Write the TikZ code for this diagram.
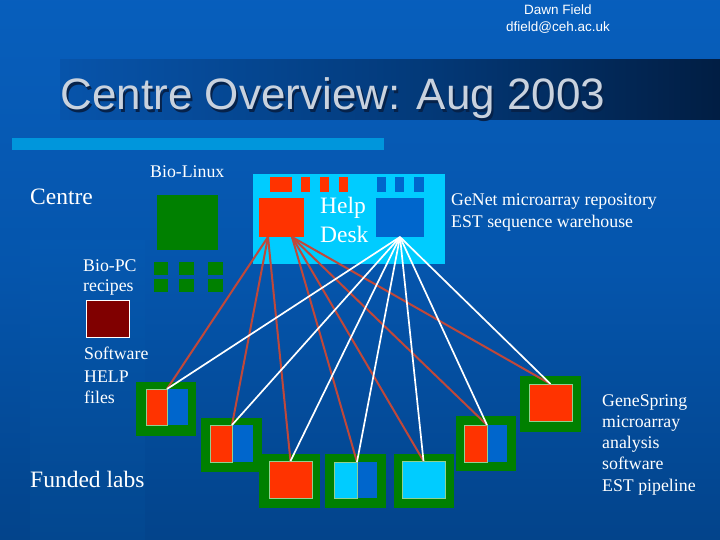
\documentclass[tikz,border=0pt]{standalone}
\usepackage{fontspec}
\setmainfont{Liberation Serif}
\newfontfamily\arialf{Liberation Sans}
\usetikzlibrary{calc}
\definecolor{bgtop}{HTML}{0A68CC}
\definecolor{bgmid}{HTML}{0555AC}
\definecolor{bgbot}{HTML}{00326A}
\definecolor{bandA}{HTML}{0A60C2}
\definecolor{bandB}{HTML}{0857B0}
\definecolor{bandC}{HTML}{033A7A}
\definecolor{bandD}{HTML}{011A3C}
\definecolor{bandE}{HTML}{000814}
\definecolor{stripbot}{HTML}{03478F}
\definecolor{stripTop}{HTML}{0558B0}
\definecolor{barblue}{HTML}{0096DC}
\definecolor{titlegrey}{HTML}{C9D2DE}
\definecolor{titleshadow}{HTML}{06224A}
\definecolor{hdcyan}{HTML}{00CCFF}
\definecolor{hdred}{HTML}{FF3300}
\definecolor{hdblue}{HTML}{0066CC}
\definecolor{labgreen}{HTML}{008000}
\definecolor{lightg}{HTML}{90D090}
\definecolor{darkred}{HTML}{800000}
\definecolor{linered}{HTML}{C0483A}
\pgfdeclareverticalshading{bgshade}{100bp}{color(0bp)=(bgbot); color(50bp)=(bgmid); color(100bp)=(bgtop)}
\pgfdeclarehorizontalshading{bandshade}{100bp}{color(0bp)=(bandA); color(22bp)=(bandB); color(52bp)=(bandC); color(78bp)=(bandD); color(100bp)=(bandE)}
\newcommand\rn[6]{\node[box,#2,minimum width={(#5-#3)*1pt},minimum height={(#6-#4)*1pt}] (#1) at (#3,#4) {};}
\newcommand\shadowtext[1]{\makebox[0pt][l]{\hspace{2pt}\raisebox{-2.5pt}{\textcolor{titleshadow}{#1}}}\textcolor{titlegrey}{#1}}
\tikzset{
  box/.style={rectangle, inner sep=0pt, outer sep=0pt, anchor=north west, draw=none},
  ser/.style={inner sep=0pt, anchor=base west, text=white, font=\fontsize{17.8}{21}\selectfont},
  big/.style={ser, font=\fontsize{23.5}{28}\selectfont},
  redline/.style={draw=linered, line width=2pt},
  whiteline/.style={draw=white, line width=1.7pt},
  outline/.style={draw=lightg, line width=0.8pt},
}
\begin{document}
\begin{tikzpicture}[x=1pt,y=-1pt]
\useasboundingbox (0,0) rectangle (720,540);
% background
\shade[shading=bgshade] (0,0) rectangle (720,540);
\shade[top color=stripTop, bottom color=stripbot] (30,240) rectangle (145,540);
% title band
\shade[shading=bandshade] (60,60) rectangle (720,120);
\node[inner sep=0pt, anchor=base west, font=\arialf\fontsize{44}{50}\selectfont] (title) at (60.5,110) {\shadowtext{Centre Overview: Aug 2003}};
\node[inner sep=0pt, anchor=base, text=white, font=\arialf\fontsize{13.5}{16}\selectfont] (author) at (558,15) {Dawn Field};
\node[inner sep=0pt, anchor=base, text=white, font=\arialf\fontsize{13.5}{16}\selectfont] (email) at (558,32) {dfield@ceh.ac.uk};
\rn{bar}{fill=barblue}{12}{138}{384}{150}
% left column
\node[big] (centre) at (30,205) {Centre};
\node[ser] (biolinux) at (150,178) {Bio-Linux};
\rn{blbig}{fill=labgreen}{157}{195}{218}{250}
\rn{g1}{fill=labgreen}{154}{262}{168}{275}
\rn{g2}{fill=labgreen}{179}{262}{194}{275}
\rn{g3}{fill=labgreen}{208}{262}{223}{275}
\rn{g4}{fill=labgreen}{154}{279}{168}{292}
\rn{g5}{fill=labgreen}{179}{279}{194}{292}
\rn{g6}{fill=labgreen}{208}{279}{223}{292}
\node[ser] (biopc) at (83,271) {Bio-PC};
\node[ser] (recipes) at (83,291) {recipes};
\rn{dred}{fill=darkred, draw=white, line width=1pt}{86}{300}{129}{337}
\node[ser] (software) at (84,359) {Software};
\node[ser] (helpw) at (84,382) {HELP};
\node[ser] (files) at (84,403) {files};
\node[big] (funded) at (30,487) {Funded labs};
% help desk
\rn{hd}{fill=hdcyan}{253}{174}{445}{264}
\rn{r0}{fill=hdred}{270}{177}{292}{192}
\rn{r1}{fill=hdred}{301}{177}{310}{192}
\rn{r2}{fill=hdred}{320}{177}{329}{192}
\rn{r3}{fill=hdred}{339}{177}{348}{192}
\rn{b1}{fill=hdblue}{377}{177}{386}{192}
\rn{b2}{fill=hdblue}{395}{177}{404}{192}
\rn{b3}{fill=hdblue}{414}{177}{424}{192}
\rn{rsq}{fill=hdred}{259}{198}{304}{237}
\rn{bsq}{fill=hdblue}{376}{198}{424}{237}
\node[big] (help) at (320,214) {Help};
\node[big] (desk) at (320,242) {Desk};
\node[ser] (genet) at (451,206) {GeNet microarray repository};
\node[ser] (est) at (451,227) {EST sequence warehouse};
% right text
\node[ser] (gs1) at (602,406) {GeneSpring};
\node[ser] (gs2) at (602,427) {microarray};
\node[ser] (gs3) at (602,448) {analysis};
\node[ser] (gs4) at (602,469) {software};
\node[ser] (gs5) at (602,491) {EST pipeline};
% labs
\rn{l1}{fill=labgreen}{136}{382}{196}{436}
\rn{l1b}{fill=hdblue}{167}{389}{188}{425}
\rn{l1r}{fill=hdred,outline}{146}{389}{167}{425}
\rn{l2}{fill=labgreen}{201}{418}{262}{472}
\rn{l2b}{fill=hdblue}{232}{425}{253}{462}
\rn{l2r}{fill=hdred,outline}{210}{425}{232}{462}
\rn{l3}{fill=labgreen}{259}{454}{320}{508}
\rn{l3r}{fill=hdred,outline}{269}{461}{312}{498}
\rn{l4}{fill=labgreen}{325}{454}{386}{508}
\rn{l4b}{fill=hdblue}{357}{462}{377}{498}
\rn{l4c}{fill=hdcyan,outline}{334}{462}{357}{498}
\rn{l5}{fill=labgreen}{394}{454}{454}{508}
\rn{l5c}{fill=hdcyan,outline}{402}{461}{445}{498}
\rn{l6}{fill=labgreen}{456}{416}{516}{471}
\rn{l6b}{fill=hdblue}{487}{425}{507}{462}
\rn{l6r}{fill=hdred,outline}{464}{425}{487}{462}
\rn{l7}{fill=labgreen}{520}{376}{581}{432}
\rn{l7r}{fill=hdred,outline}{529}{384}{572}{421}
% connectors
\coordinate (rsL) at ($(rsq.south west)+(9,0)$);
\coordinate (rsR) at ($(rsq.south west)+(33,0)$);
\draw[redline] (rsL) -- (l1r.north east);
\draw[redline] (rsL) -- (l2r.north east);
\draw[redline] (rsL) -- (l3r.north);
\draw[redline] (rsR) -- (l4c.north east);
\draw[redline] (rsR) -- (l5c.north);
\draw[redline] (rsR) -- (l6r.north east);
\draw[redline] (rsR) -- (l7r.north);
\draw[whiteline] (bsq.south) -- (l1r.north east);
\draw[whiteline] (bsq.south) -- (l2r.north east);
\draw[whiteline] (bsq.south) -- (l3r.north);
\draw[whiteline] (bsq.south) -- (l4c.north east);
\draw[whiteline] (bsq.south) -- (l5c.north);
\draw[whiteline] (bsq.south) -- (l6r.north east);
\draw[whiteline] (bsq.south) -- (l7r.north);
\end{tikzpicture}
\end{document}
